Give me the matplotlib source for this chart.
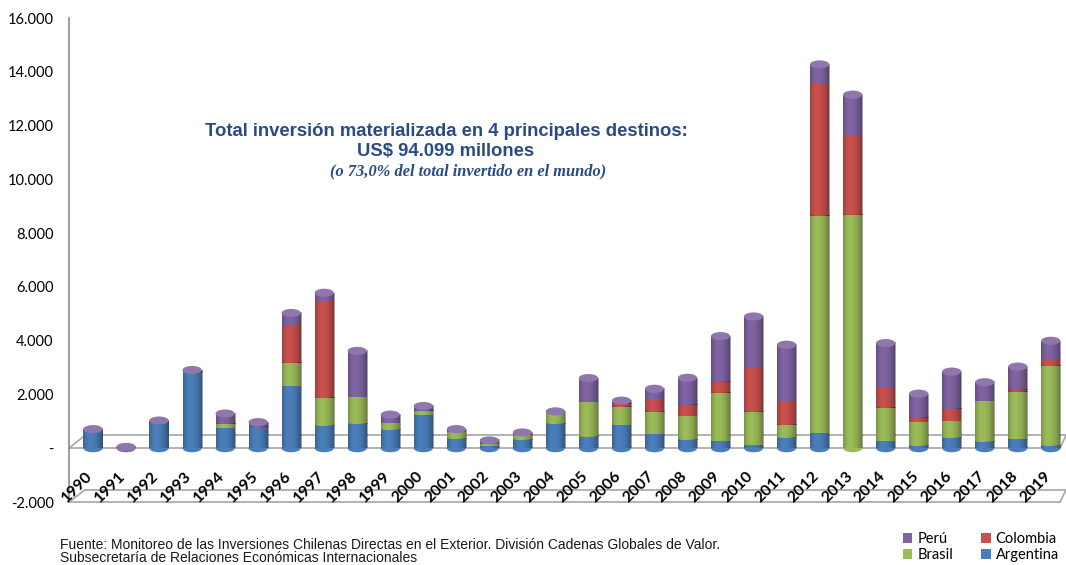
import numpy as np
import matplotlib
matplotlib.use('Agg')
import matplotlib.pyplot as plt
from matplotlib.patches import Ellipse
from matplotlib.transforms import blended_transform_factory

# 数据 (US$ millones)
years = ['1990', '1991', '1992', '1993', '1994', '1995', '1996', '1997', '1998', '1999',
         '2000', '2001', '2002', '2003', '2004', '2005', '2006', '2007', '2008', '2009',
         '2010', '2011', '2012', '2013', '2014', '2015', '2016', '2017', '2018', '2019']
argentina = [600, 0, 950, 2800, 740, 790, 2300, 830, 900, 670,
             1220, 360, 70, 300, 910, 420, 850, 520, 300, 260,
             110, 380, 550, 0, 260, 90, 380, 230, 330, 85]
brasil = [30, 0, 0, 50, 150, 0, 880, 1050, 1000, 250,
          160, 250, 70, 210, 400, 1300, 680, 830, 890, 1800,
          1230, 500, 8085, 8690, 1250, 880, 620, 1510, 1750, 2990]
colombia = [0, 0, 0, 0, 0, 0, 1350, 3570, 0, 0,
            0, 0, 0, 0, 0, 0, 120, 430, 430, 410,
            1670, 870, 4940, 2930, 760, 170, 470, 0, 85, 220]
peru = [80, 50, 80, 60, 400, 180, 500, 330, 1720, 330,
        190, 100, 150, 75, 60, 890, 120, 430, 1000, 1700,
        1890, 2100, 700, 1530, 1640, 890, 1380, 715, 870, 700]

series = [('Argentina', argentina, '#4A7EBB'),
          ('Brasil', brasil, '#9BBB59'),
          ('Colombia', colombia, '#C9504D'),
          ('Perú', peru, '#8064A2')]

plt.rcParams['font.family'] = ['Lato', 'DejaVu Sans']

fig = plt.figure(figsize=(10.66, 5.65), dpi=100)
ax = fig.add_axes([69 / 1066, 1 - 502 / 565, 997 / 1066, 484 / 565])

# 圆柱效果的渐变
g = np.linspace(0, 1, 64)
shade = np.zeros((1, 64, 4))
shade[0, :, 3] = np.where(g > 0.35, 0.38 * ((g - 0.35) / 0.65) ** 2,
                          0.22 * ((0.35 - g) / 0.35) ** 2)

x = np.arange(len(years))
w = 0.58
bottom = np.zeros(len(years))
top_col = [None] * len(years)
base_col = [None] * len(years)
handles = {}
for name, vals, col in series:
    vals = np.array(vals, dtype=float)
    bars = ax.bar(x, vals, w, bottom=bottom, color=col, label=name, zorder=3)
    handles[name] = bars
    for i, p in enumerate(bars.patches):
        if vals[i] <= 0:
            continue
        ax.imshow(shade, extent=[p.get_x(), p.get_x() + w, p.get_y(), p.get_y() + vals[i]],
                  aspect='auto', interpolation='bilinear', zorder=4)
        top_col[i] = col
        if base_col[i] is None:
            base_col[i] = col
    bottom += vals

# 顶部和底部椭圆
for i in range(len(years)):
    if base_col[i] is not None:
        ax.add_patch(Ellipse((x[i], 0), w, 300, fc=base_col[i], ec='none', zorder=2))
    if top_col[i] is not None:
        ax.add_patch(Ellipse((x[i], bottom[i]), w, 300, fc=top_col[i], ec='none', zorder=5))
        ax.add_patch(Ellipse((x[i], bottom[i]), w, 300, fc='white', alpha=0.12, ec='none', zorder=6))

ax.set_xlim(-0.727, 29.46)
ax.set_ylim(-2000, 16000)
ax.set_aspect('auto')
ax.set_yticks([-2000, 0, 2000, 4000, 6000, 8000, 10000, 12000, 14000, 16000])
ax.set_yticklabels(['-2.000', '-', '2.000', '4.000', '6.000', '8.000', '10.000',
                    '12.000', '14.000', '16.000'])
ax.tick_params(axis='y', length=0, pad=11, labelsize=10.5)
ax.set_xticks([])
for s in ['top', 'right', 'bottom']:
    ax.spines[s].set_visible(False)
ax.spines['left'].set_color('#8C8C8C')
ax.spines['left'].set_linewidth(1.2)

# 地板线
tr = blended_transform_factory(ax.transAxes, ax.transData)
lc = '#A6A6A6'
for y0, y1 in [(0, 480), (-2000, -1550)]:
    ax.plot([0, 0.994], [y0, y0], color=lc, lw=1.2, transform=tr, clip_on=False, zorder=1)
    ax.plot([0.016, 1.0], [y1, y1], color=lc, lw=1.2, transform=tr, clip_on=False, zorder=1)
    ax.plot([0, 0.016], [y0, y1], color=lc, lw=1.2, transform=tr, clip_on=False, zorder=1)
    ax.plot([0.994, 1.0], [y0, y1], color=lc, lw=1.2, transform=tr, clip_on=False, zorder=1)

for i, yr in enumerate(years):
    ax.text(x[i] - 0.22, -780, yr, rotation=45, ha='right', va='top', rotation_mode='anchor',
            fontsize=11.5, fontweight='bold', color='black')

# 标题文字
tc = '#284B86'
fig.text(446 / 1066, 1 - 131 / 565, 'Total inversión materializada en 4 principales destinos:',
         ha='center', va='center', fontsize=13.3, fontweight='bold', color=tc,
         family='Liberation Sans')
fig.text(446 / 1066, 1 - 152 / 565, 'US$ 94.099 millones',
         ha='center', va='center', fontsize=13.3, fontweight='bold', color=tc,
         family='Liberation Sans')
fig.text(468 / 1066, 1 - 171 / 565, '(o 73,0% del total invertido en el mundo)',
         ha='center', va='center', fontsize=11.8, fontweight='bold', style='italic', color=tc,
         family='Liberation Serif')

fig.text(60 / 1066, 1 - 545 / 565,
         'Fuente: Monitoreo de las Inversiones Chilenas Directas en el Exterior. División Cadenas Globales de Valor.',
         ha='left', va='center', fontsize=10, color='#1a1a1a', family='Liberation Sans')
fig.text(60 / 1066, 1 - 558 / 565,
         'Subsecretaría de Relaciones Económicas Internacionales',
         ha='left', va='center', fontsize=10, color='#1a1a1a', family='Liberation Sans')

order = ['Perú', 'Brasil', 'Colombia', 'Argentina']
fig.legend([handles[n] for n in order], order, loc='upper left',
           bbox_to_anchor=(903 / 1066, 1 - 532 / 565), ncol=2, frameon=False,
           fontsize=10.5, handlelength=0.65, handleheight=0.65, handletextpad=0.35,
           columnspacing=1.9, labelspacing=0.15, borderaxespad=0, borderpad=0)

fig.savefig('out.png', dpi=100)
